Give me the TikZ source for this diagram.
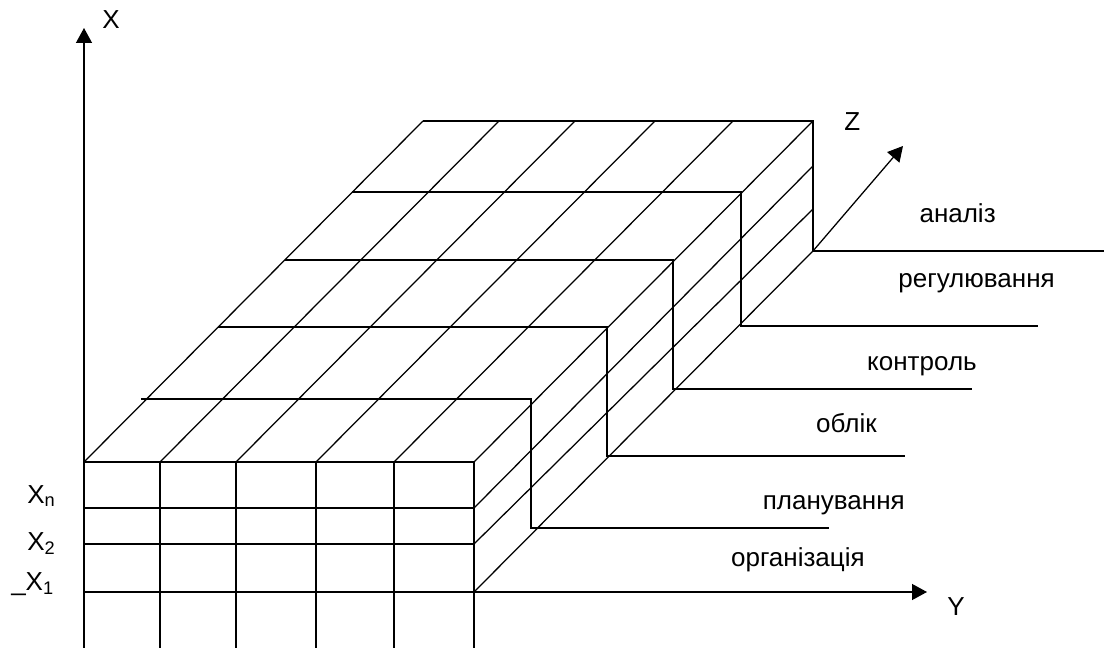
\documentclass[tikz,border=0pt]{standalone}
\usepackage{fontspec}
\setmainfont{Liberation Sans}
\usepackage{tikz}
\usetikzlibrary{arrows.meta, positioning}
\tikzset{
  edge/.style ={line width=0.9pt},                                       % grid and box lines
  axis/.style ={-{Triangle[length=3.75mm, width=4mm]}, line width=0.9pt}, % X, Y, Z axes
  lbl/.style  ={font=\fontsize{18.5}{22}\selectfont, inner sep=0pt},
}

\begin{document}
\begin{tikzpicture}[x=0.025cm, y=-0.025cm]
  \useasboundingbox (0,0) rectangle (1104,648);

  % axes
  \coordinate (o)    at (84,592);
  \coordinate (xbot) at (84,648);
  \coordinate (xtip) at (84,28);
  \coordinate (ytip) at (927,592);
  \coordinate (zfoot) at (813,251);
  \coordinate (ztip) at (903,146);
  \draw[axis] (xbot) -- (xtip);
  \draw[axis] (o) -- (ytip);
  \draw[axis] (zfoot) -- (ztip);

  % front face
  \foreach \y in {462,508,544}
    \draw[edge] (84,\y) -- (474,\y);
  \foreach \x in {160,236,316,394,474}
    \draw[edge] (\x,462) -- (\x,648);

  % top face
  \foreach \x in {84,160,236,316,394,474}
    \draw[edge] (\x,462) -- ++(339,-341);
  \foreach \xa/\xb/\yt/\yb/\xe in {141/531/399/528/829, 218/607/327/456/905,
      285/673/260/389/972, 352/741/192/326/1038, 423/813/121/251/1104}
    \draw[edge] (\xa,\yt) -- (\xb,\yt) -- (\xb,\yb) -- (\xe,\yb);

  % right face
  \foreach \ya/\yb in {508/166, 544/209, 592/251}
    \draw[edge] (474,\ya) -- (813,\yb);

  % axis labels
  \node[lbl, anchor=base west] (xlbl) at (102,29)  {X};
  \node[lbl, anchor=base west] (ylbl) at (947,615) {Y};
  \node[lbl, anchor=base west] (zlbl) at (844,131) {Z};
  \node[lbl, anchor=base west] (xn) at (27,503) {X\textsubscript{n}};
  \node[lbl, anchor=base west] (x2) at (27,550) {X\textsubscript{2}};
  \node[lbl, anchor=base west] (x1) at (11,590) {\_X\textsubscript{1}};

  % layer labels
  \node[lbl, anchor=base east] (analiz) at (996,223)  {аналіз};
  \node[lbl, anchor=base east] (rehul)  at (1055,288) {регулювання};
  \node[lbl, anchor=base east] (kontr)  at (977,371)  {контроль};
  \node[lbl, anchor=base east] (oblik)  at (877,432)  {облік};
  \node[lbl, anchor=base east] (plan)   at (905,509)  {планування};
  \node[lbl, anchor=base east] (orh)    at (865,566)  {організація};
\end{tikzpicture}
\end{document}
